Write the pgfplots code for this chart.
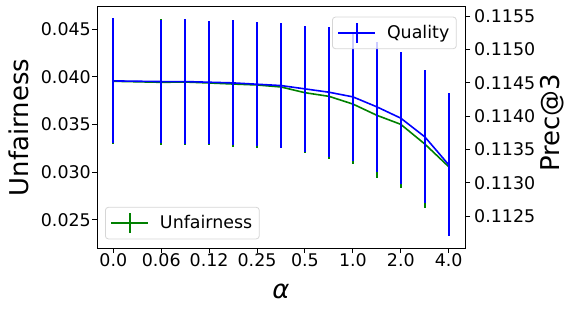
\documentclass[border=0pt]{standalone}
\usepackage{fontspec}
\setmainfont{DejaVu Sans}
\usepackage{pgfplots}
\pgfplotsset{compat=1.18}
\usepackage{pgfplotstable}
\definecolor{mplgreen}{RGB}{0,128,0}
\definecolor{mplblue}{RGB}{0,0,255}
\definecolor{legframe}{RGB}{214,214,214}

\pgfplotstableread{
x y e
0 0.03955 0.00661
2 0.03944 0.00661
3 0.03947 0.00664
4 0.03937 0.00650
5 0.03926 0.00658
6 0.03916 0.00658
7 0.03895 0.00643
8 0.03835 0.00636
9 0.03797 0.00655
10 0.03716 0.00630
11 0.03598 0.00661
12 0.03503 0.00671
13 0.03297 0.00668
14 0.03059 0.00730
}\unfair

\pgfplotstableread{
x y e
0 0.11453 0.000938
2 0.11452 0.000930
3 0.11452 0.000935
4 0.11451 0.000925
5 0.11450 0.000938
6 0.11448 0.000935
7 0.11446 0.000933
8 0.11441 0.000950
9 0.11436 0.000975
10 0.11429 0.000960
11 0.11414 0.000975
12 0.11397 0.000990
13 0.11369 0.001000
14 0.11327 0.001075
}\quality

\begin{document}
\begin{tikzpicture}[x=1bp,y=1bp]
\useasboundingbox (0,0) rectangle (573,311);
\pgfplotsset{
  common/.style={
    scale only axis, width=368bp, height=241bp,
    at={(97bp,63bp)}, anchor=south west,
    xmin=-0.68, xmax=14.68,
    /pgf/number format/assume math mode=true,
    tick align=outside, major tick length=5bp,
    every tick/.style={black, line width=1bp},
    axis line style={line width=1bp},
    tick label style={font=\fontsize{17.5}{20}\selectfont, inner sep=0pt},
    label style={font=\fontsize{26}{30}\selectfont, inner sep=0pt},
    legend style={font=\fontsize{17.5}{20}\selectfont, draw=legframe, line width=0.8bp,
      rounded corners=3bp, fill=white, fill opacity=0.8, text opacity=1,
      inner xsep=5bp, inner ysep=5bp},
    legend cell align=left,
    legend image code/.code={
      \draw[#1, line width=1.6bp] (0bp,0bp) -- (37bp,0bp);
      \draw[#1, line width=1.6bp] (18.5bp,-10bp) -- (18.5bp,10bp);
      \path (46bp,0bp);
    },
  }
}
\begin{axis}[common,
  ymin=0.02206, ymax=0.04734,
  xtick={0,2,4,6,8,10,12,14},
  xticklabels={0.0,0.06,0.12,0.25,0.5,1.0,2.0,4.0},
  xtick pos=bottom, ytick pos=left,
  ytick={0.025,0.030,0.035,0.040,0.045},
  yticklabel style={/pgf/number format/fixed, /pgf/number format/fixed zerofill, /pgf/number format/precision=3, anchor=east, xshift=-1bp},
  xticklabel style={anchor=north},
  scaled y ticks=false,
  xlabel={\itshape α},
  xlabel style={at={(axis description cs:0.5,0)}, anchor=base, yshift=-50bp},
  ylabel={Unfairness},
  ylabel style={at={(axis description cs:-0.241,0.5)}, rotate=0, anchor=north},
  legend style={at={(axis description cs:0,0)}, anchor=south west, xshift=8bp, yshift=8.7bp},
]
\addplot[mplgreen, line width=1.6bp,
  error bars/.cd, y dir=both, y explicit, error mark=none,
  error bar style={line width=1.6bp, mplgreen}]
  table[x=x, y=y, y error=e]{\unfair};
\addlegendentry{Unfairness}
\end{axis}
\begin{axis}[common,
  ymin=0.11202, ymax=0.11564,
  hide x axis,
  axis y line*=right,
  ytick={0.1125,0.1130,0.1135,0.1140,0.1145,0.1150,0.1155},
  yticklabel style={/pgf/number format/fixed, /pgf/number format/fixed zerofill, /pgf/number format/precision=4, anchor=west, xshift=4bp},
  scaled y ticks=false,
  ylabel={Prec@3},
  ylabel style={at={(axis description cs:1.2038,0.52)}, rotate=0, anchor=north},
  legend style={at={(axis description cs:1,1)}, anchor=north east, xshift=-8.3bp, yshift=-9.7bp},
]
\addplot[mplblue, line width=1.6bp,
  error bars/.cd, y dir=both, y explicit, error mark=none,
  error bar style={line width=1.6bp, mplblue}]
  table[x=x, y=y, y error=e]{\quality};
\addlegendentry{Quality}
\end{axis}
\end{tikzpicture}
\end{document}
